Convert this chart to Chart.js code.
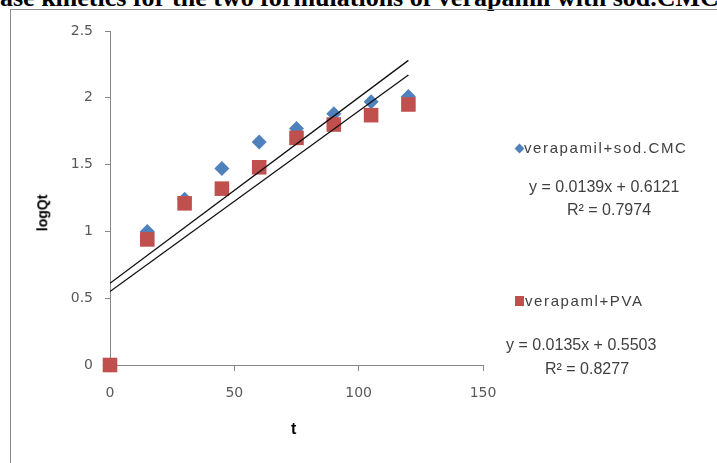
<!DOCTYPE html>
<html>
<head>
<meta charset="utf-8">
<script src="https://cdn.jsdelivr.net/npm/chart.js@4.4.0/dist/chart.umd.min.js"></script>
<style>
  body { margin: 0; background: #fff; }
  #wrap { position: relative; width: 717px; height: 463px; overflow: hidden; background: #fff; }
  #frame { position: absolute; left: 10px; top: 9px; width: 800px; height: 600px;
           border-left: 1px solid #8c8c8c; border-top: 1px solid #8c8c8c; }
  canvas { position: absolute; left: 0; top: 0; }
  .title { position: absolute; left: 0; top: -17px; white-space: nowrap;
           font: bold 26px "Liberation Serif", "Times New Roman", serif; color: #000; }
  .txt { position: absolute; white-space: nowrap; color: #404040;
         font: 16px "Liberation Sans", Arial, sans-serif; }
  .leg { letter-spacing: 1.6px; font-size: 15px; }
  .axt { position: absolute; font: bold 14px "Liberation Sans", Arial, sans-serif; color: #000; }
  .mk { position: absolute; }
</style>
</head>
<body>
<div id="wrap">
  <div class="title">ase kinetics for the two formulations of verapamil with sod.CMC</div>
  <div id="frame"></div>
  <canvas id="c" width="717" height="463"></canvas>

  <div class="mk" style="left:516px;top:145px;width:7px;height:7px;background:#4f81bd;transform:rotate(45deg);"></div>
  <div class="txt leg" style="left:524px;top:139px;">verapamil+sod.CMC</div>
  <div class="txt" style="left:529px;top:178px;">y = 0.0139x + 0.6121</div>
  <div class="txt" style="left:567px;top:201px;">R² = 0.7974</div>

  <div class="mk" style="left:515px;top:296px;width:9px;height:10px;background:#c0504d;"></div>
  <div class="txt leg" style="left:525px;top:292px;">verapaml+PVA</div>
  <div class="txt" style="left:506px;top:336px;">y = 0.0135x + 0.5503</div>
  <div class="txt" style="left:545px;top:360px;">R² = 0.8277</div>

  <div class="axt" style="left:24px;top:205px;transform:rotate(-90deg);">logQt</div>
  <div class="axt" style="left:291px;top:420px;font-size:16px;">t</div>
</div>
<script>
// time points (x) and logQt values
const tValues = [0, 15, 30, 45, 60, 75, 90, 105, 120];
const cmcLogQt = [0, 1.00, 1.24, 1.47, 1.67, 1.77, 1.88, 1.97, 2.01];
const pvaLogQt = [0, 0.94, 1.21, 1.32, 1.48, 1.70, 1.80, 1.87, 1.95];

// linear trendlines, ends at t = 0 and t = 120
const trendT = [0, 120];
const cmcTrend = [0.6121, 2.2801];
const pvaTrend = [0.5503, 2.1703];

const toPoints = (xs, ys) => xs.map((x, i) => ({ x: x, y: ys[i] }));

const axisColor = "#868686";
const tickFont = { family: "DejaVu Sans", size: 14 };

new Chart(document.getElementById("c"), {
  type: "scatter",
  data: {
    datasets: [
      {
        label: "trend CMC",
        data: toPoints(trendT, cmcTrend),
        showLine: true,
        borderColor: "#111",
        borderWidth: 1.3,
        pointRadius: 0,
        order: 0,
      },
      {
        label: "trend PVA",
        data: toPoints(trendT, pvaTrend),
        showLine: true,
        borderColor: "#111",
        borderWidth: 1.3,
        pointRadius: 0,
        order: 1,
      },
      {
        label: "verapaml+PVA",
        data: toPoints(tValues, pvaLogQt),
        pointStyle: "rect",
        pointRadius: 10.3,
        backgroundColor: "#c0504d",
        borderWidth: 0,
        clip: false,
        order: 2,
      },
      {
        label: "verapamil+sod.CMC",
        data: toPoints(tValues, cmcLogQt),
        pointStyle: "rectRot",
        pointRadius: 7.5,
        backgroundColor: "#4f81bd",
        borderWidth: 0,
        clip: false,
        order: 3,
      },
    ],
  },
  options: {
    responsive: false,
    animation: false,
    layout: { padding: { left: 0, top: 31, right: 234, bottom: 0 } },
    plugins: { legend: { display: false }, tooltip: { enabled: false } },
    scales: {
      x: {
        type: "linear",
        min: 0,
        max: 150,
        ticks: { stepSize: 50, color: "#595959", font: tickFont, padding: 14 },
        grid: { drawOnChartArea: false, drawTicks: true, tickLength: 6, color: axisColor },
        border: { color: axisColor, width: 1 },
        afterFit: (scale) => { scale.height = 98; },
      },
      y: {
        min: 0,
        max: 2.5,
        ticks: {
          stepSize: 0.5,
          color: "#595959",
          font: tickFont,
          padding: 12,
          callback: (v) => String(v),
        },
        grid: { drawOnChartArea: false, drawTicks: true, tickLength: 5, color: axisColor },
        border: { color: axisColor, width: 1 },
        afterFit: (scale) => { scale.width = 110; },
      },
    },
  },
});
</script>
</body>
</html>
